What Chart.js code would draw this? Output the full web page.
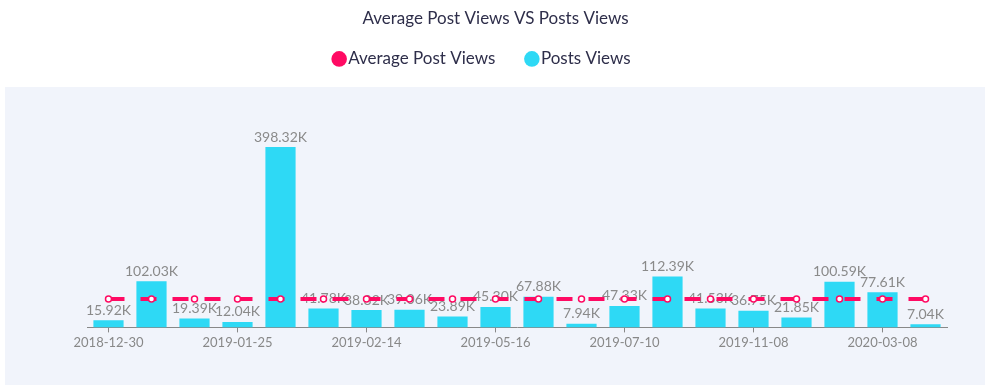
<!DOCTYPE html>
<html lang="en">
<head>
    <meta charset="UTF-8">
    <title>Average Post Views VS Posts Views</title>
    <script src="https://cdn.jsdelivr.net/npm/chart.js"></script>
    <style>
        body { margin: 0; background: #fff; }
        #wrap { width: 991px; height: 392px; }
    </style>
</head>
<body>
    <div id="wrap"><canvas id="myChart"></canvas></div>

    <script>
        // dates (only every 3rd one is shown on the axis)
        const dates = [
            '2018-12-30', '2019-01-06', '2019-01-15', '2019-01-25', '2019-01-31',
            '2019-02-07', '2019-02-14', '2019-02-28', '2019-03-20', '2019-05-16',
            '2019-05-30', '2019-06-18', '2019-07-10', '2019-07-28', '2019-09-15',
            '2019-11-08', '2019-12-05', '2020-01-12', '2020-03-08', '2020-04-10'
        ];
        // views in thousands
        const postViews = [
            15.92, 102.03, 19.39, 12.04, 398.32, 41.78, 38.32, 39.06, 23.89, 45.30,
            67.88, 7.94, 47.33, 112.39, 41.53, 36.75, 21.85, 100.59, 77.61, 7.04
        ];
        const averageViews = [
            62.85, 62.85, 62.85, 62.85, 62.85, 62.85, 62.85, 62.85, 62.85, 62.85,
            62.85, 62.85, 62.85, 62.85, 62.85, 62.85, 62.85, 62.85, 62.85, 62.85
        ];

        const FONT = 'Lato, "Noto Sans", sans-serif';

        // light panel behind the plot
        const panelBg = {
            id: 'panelBg',
            beforeDraw(chart) {
                const c = chart.ctx;
                c.save();
                c.fillStyle = '#f1f4fb';
                c.fillRect(5, 87, 980, 298);
                c.restore();
            }
        };

        // value labels over the bars, drawn before the line goes on top
        const barLabels = {
            id: 'barLabels',
            afterDatasetDraw(chart, args) {
                if (args.index !== 1) return;
                const c = chart.ctx;
                c.save();
                c.font = '14px ' + FONT;
                c.fillStyle = '#8a8a8a';
                c.textAlign = 'center';
                c.textBaseline = 'bottom';
                args.meta.data.forEach((bar, i) => {
                    c.fillText(postViews[i].toFixed(2) + 'K', bar.x, bar.y - 3);
                });
                c.restore();
            }
        };

        // invisible side axes just to place the plot area
        const spacer = (w, pos) => ({
            position: pos,
            display: true,
            ticks: { display: false },
            grid: { display: false },
            border: { display: false },
            afterFit(s) { s.width = w; }
        });

        const ctx = document.getElementById('myChart').getContext('2d');
        new Chart(ctx, {
            type: 'bar',
            data: {
                labels: dates,
                datasets: [{
                    type: 'line',
                    label: 'Average Post Views',
                    data: averageViews,
                    borderColor: '#ff0a63',
                    backgroundColor: '#ff0a63',
                    borderWidth: 4,
                    borderDash: [16, 16],
                    pointRadius: 3,
                    pointBorderWidth: 1.5,
                    pointBackgroundColor: '#ffffff',
                    pointBorderColor: '#ff0a63',
                    fill: false
                }, {
                    label: 'Posts Views',
                    data: postViews,
                    backgroundColor: '#2ed9f5',
                    borderColor: '#2ed9f5',
                    barPercentage: 0.9,
                    categoryPercentage: 0.78
                }]
            },
            options: {
                responsive: true,
                maintainAspectRatio: false,
                animation: false,
                layout: { padding: { left: 0, right: 0, top: 8, bottom: 38 } },
                plugins: {
                    title: {
                        display: true,
                        text: 'Average Post Views VS Posts Views',
                        color: '#2e2e4a',
                        font: { family: FONT, size: 17, weight: 'normal' },
                        padding: { top: 0, bottom: -14 }
                    },
                    legend: {
                        labels: {
                            usePointStyle: true,
                            pointStyle: 'circle',
                            boxWidth: 1,
                            boxHeight: 11,
                            padding: 36,
                            color: '#2e2e4a',
                            font: { family: FONT, size: 17 },
                            generateLabels(chart) {
                                const n = chart.data.datasets.length;
                                return chart.data.datasets.map((ds, i) => ({
                                    text: ds.label + (i === n - 1 ? '     ' : ''),
                                    fillStyle: ds.borderColor,
                                    strokeStyle: ds.borderColor,
                                    lineWidth: 0,
                                    pointStyle: 'circle',
                                    fontColor: '#2e2e4a',
                                    hidden: false,
                                    datasetIndex: i
                                }));
                            }
                        }
                    },
                    tooltip: { enabled: false }
                },
                scales: {
                    x: {
                        grid: {
                            offset: false,
                            drawOnChartArea: false,
                            tickLength: 5,
                            color: c => (c.index % 3 === 0 ? '#888' : 'rgba(0,0,0,0)')
                        },
                        border: { color: '#888', width: 1 },
                        ticks: {
                            autoSkip: false,
                            maxRotation: 0,
                            color: '#888',
                            font: { family: FONT, size: 13 },
                            callback: function (v, i) { return i % 3 === 0 ? this.getLabelForValue(v) : ''; }
                        }
                    },
                    y: Object.assign(spacer(87, 'left'), { min: 0, max: 552 }),
                    yRight: spacer(44, 'right')
                }
            },
            plugins: [panelBg, barLabels]
        });
    </script>
</body>
</html>
